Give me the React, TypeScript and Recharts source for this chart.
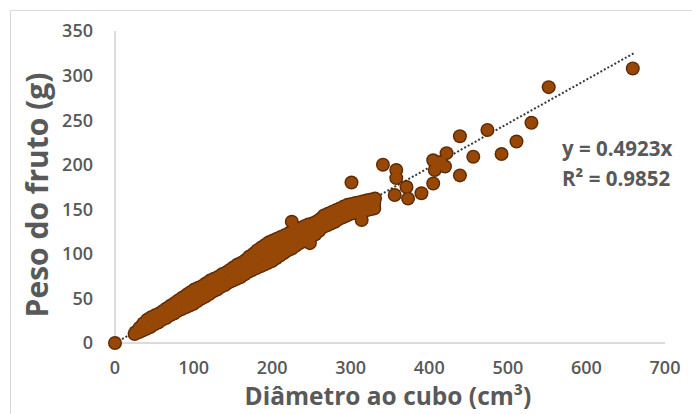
import React from 'react';
import { ScatterChart, Scatter, XAxis, YAxis } from 'recharts';

// fruit samples: [diameter cubed (cm³), fruit weight (g)]
const bandPoints: [number, number][] = [
  [0, 0],
  [25, 10], [26, 12], [30, 12], [30, 15], [31, 17], [35, 14], [35, 18], [36, 22],
  [40, 16], [40, 21], [41, 26], [45, 18], [45, 24], [46, 29], [50, 21], [50, 26], [51, 31],
  [55, 23], [55, 28], [56, 33], [60, 26], [60, 31], [61, 36], [65, 28], [65, 34], [66, 39],
  [70, 31], [70, 36], [71, 42], [75, 33], [75, 39], [76, 45], [80, 36], [80, 42], [81, 48],
  [85, 38], [85, 45], [86, 51], [90, 40], [90, 47], [91, 54], [95, 42], [95, 50], [96, 57],
  [100, 44], [100, 52], [101, 60], [105, 47], [105, 55], [106, 62], [110, 50], [110, 57], [111, 64],
  [115, 52], [115, 60], [116, 67], [120, 55], [120, 62], [121, 70], [125, 58], [125, 65], [126, 72],
  [130, 60], [130, 67], [131, 74], [135, 63], [135, 70], [136, 77], [140, 65], [140, 72], [141, 79],
  [145, 68], [145, 75], [146, 82], [150, 70], [150, 78], [151, 85], [155, 72], [155, 80], [156, 88],
  [160, 74], [160, 82], [161, 90], [165, 77], [165, 85], [166, 93], [170, 80], [170, 88], [171, 97],
  [175, 82], [175, 91], [176, 100], [180, 84], [180, 94], [181, 104], [185, 86], [185, 96], [186, 107],
  [190, 88], [190, 99], [191, 110], [195, 90], [195, 101], [196, 113], [200, 92], [200, 104], [201, 115],
  [205, 95], [205, 106], [206, 117], [210, 98], [210, 108], [211, 119], [215, 101], [215, 111], [216, 121],
  [220, 104], [220, 113], [221, 123], [225, 106], [225, 116], [226, 125], [225, 136],
  [230, 109], [230, 118], [231, 127], [235, 112], [235, 120], [236, 129], [240, 114], [240, 122], [241, 131],
  [245, 117], [245, 125], [246, 133], [248, 112], [250, 119], [250, 127], [251, 134],
  [255, 122], [255, 129], [256, 136], [260, 126], [260, 132], [261, 139], [265, 130], [265, 136], [266, 143],
  [270, 132], [270, 138], [271, 145], [275, 134], [275, 140], [276, 147], [280, 136], [280, 142], [281, 149],
  [285, 139], [285, 145], [286, 151], [290, 141], [290, 147], [291, 153], [295, 143], [295, 149], [296, 155],
  [300, 145], [300, 150], [301, 156], [301, 180], [305, 146], [305, 151], [306, 157], [310, 147], [310, 153],
  [311, 158], [314, 138], [315, 148], [315, 154], [316, 159], [320, 149], [320, 155], [321, 160],
  [325, 150], [325, 156], [326, 161], [330, 151], [330, 157], [331, 162],
];

const outlierPoints: [number, number][] = [
  [341, 200], [358, 194], [358, 185], [371, 175], [356, 166], [373, 162], [390, 168],
  [405, 179], [405, 205], [407, 194], [420, 198], [422, 213], [415, 203], [439, 232],
  [439, 188], [456, 209], [474, 239], [492, 212], [511, 226], [530, 247], [552, 287],
  [659, 308],
];

const xTicks = [0, 100, 200, 300, 400, 500, 600, 700];
const yTicks = [0, 50, 100, 150, 200, 250, 300, 350];

const slope = 0.4923;
const trendX = [0, 660];

const points = [...bandPoints, ...outlierPoints].map(([x, y]) => ({ x, y }));
const trend = trendX.map((x) => ({ x, y: x * slope }));

const FONT = '"Open Sans", sans-serif';
const GRAY = '#595959';
const tickStyle = { fill: GRAY, fontSize: 18, fontWeight: 600, fontFamily: FONT };

// outline layer first, fill layer on top, so overlapping markers merge into one blob
const DotEdge = (props: any) => <circle cx={props.cx} cy={props.cy} r={7} fill="#5e2a04" />;
const DotFill = (props: any) => <circle cx={props.cx} cy={props.cy} r={5.6} fill="#974806" />;

export default function App() {
  return (
    <div style={{ position: 'absolute', left: 0, top: 0, width: 692, height: 414, overflow: 'hidden', background: '#fff' }}>
      <div style={{ position: 'absolute', left: 10, top: 10, width: 720, height: 440, border: '1.5px solid #d9d9d9' }} />
      <div style={{ position: 'absolute', left: 0, top: 0 }}>
        <ScatterChart width={692} height={414} margin={{ top: 31, right: 27, bottom: 31, left: 55 }}>
          <XAxis
            type="number"
            dataKey="x"
            domain={[0, 700]}
            ticks={xTicks}
            height={40}
            tickLine={false}
            tickSize={0}
            tickMargin={18}
            axisLine={{ stroke: '#d0d0d0', strokeWidth: 1.5 }}
            tick={tickStyle}
          />
          <YAxis
            type="number"
            dataKey="y"
            domain={[0, 350]}
            ticks={yTicks}
            width={60}
            tickLine={false}
            tickSize={0}
            tickMargin={22}
            axisLine={{ stroke: '#d0d0d0', strokeWidth: 1.5 }}
            tick={tickStyle}
          />
          <Scatter
            data={trend}
            line={{ stroke: '#3a3a3a', strokeWidth: 2, strokeDasharray: '2 2' }}
            shape={() => <g />}
            isAnimationActive={false}
          />
          <Scatter data={points} shape={DotEdge} isAnimationActive={false} />
          <Scatter data={points} shape={DotFill} isAnimationActive={false} />
        </ScatterChart>
      </div>
      <div style={{ position: 'absolute', left: 388, top: 396, transform: 'translate(-50%, -50%)', whiteSpace: 'nowrap', fontFamily: FONT, fontWeight: 700, fontSize: 24.5, lineHeight: '28px', color: GRAY }}>
        Diâmetro ao cubo (cm³)
      </div>
      <div style={{ position: 'absolute', left: 37, top: 195, transform: 'translate(-50%, -50%) rotate(-90deg)', whiteSpace: 'nowrap', fontFamily: FONT, fontWeight: 700, fontSize: 30, lineHeight: '32px', color: GRAY }}>
        Peso do fruto (g)
      </div>
      <div style={{ position: 'absolute', left: 562, top: 133, fontFamily: FONT, fontWeight: 700, fontSize: 20.5, lineHeight: '30px', color: GRAY, whiteSpace: 'nowrap' }}>
        <div>y = 0.4923x</div>
        <div>R² = 0.9852</div>
      </div>
    </div>
  );
}
